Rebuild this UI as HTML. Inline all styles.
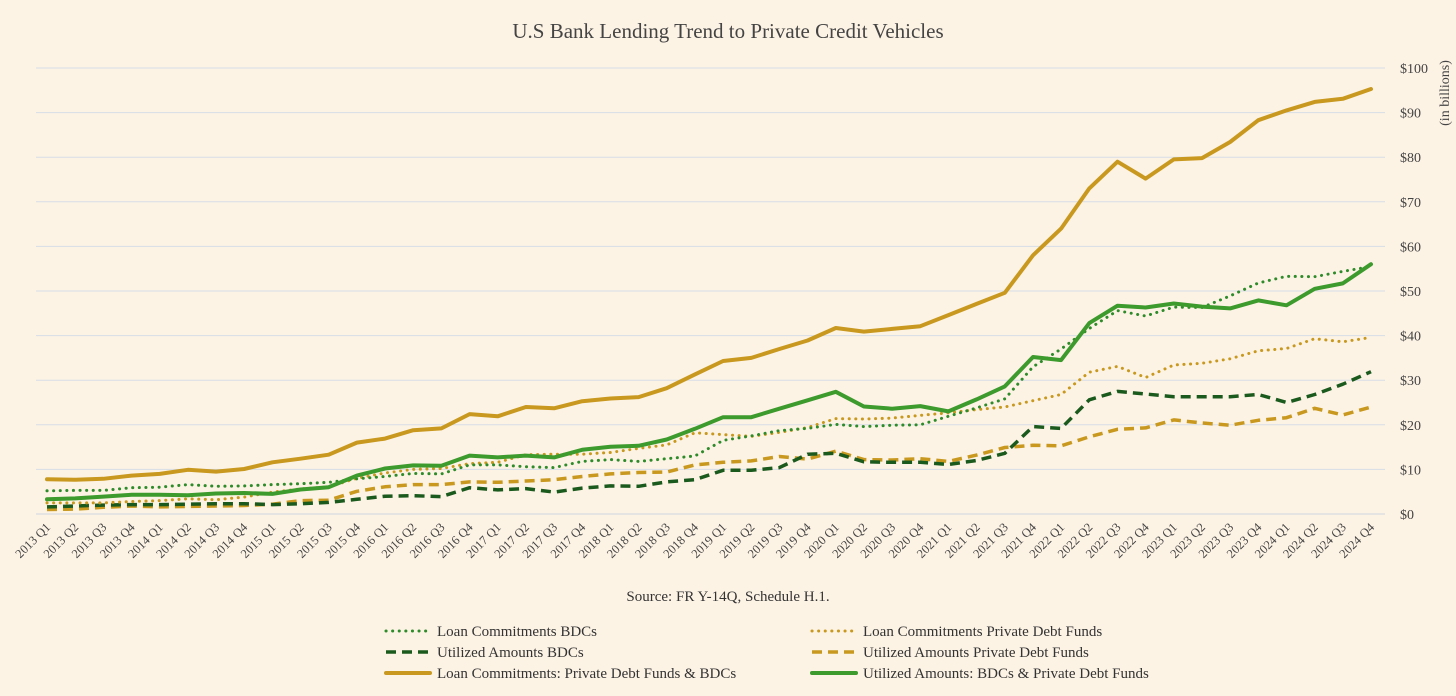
<!DOCTYPE html>
<html><head><meta charset="utf-8"><style>
body{margin:0;background:#fdf3e5;}
svg{display:block;font-family:"Liberation Serif",serif;}
</style></head><body>
<svg id="chart" width="1456" height="696" viewBox="0 0 1456 696">
<rect width="1456" height="696" fill="#fdf3e5"/>
<text x="728" y="38" text-anchor="middle" font-size="21" fill="#444">U.S Bank Lending Trend to Private Credit Vehicles</text>
<g id="grid"></g><g id="xlabels"></g><g id="ylabels"></g><g id="series"></g>
<text transform="translate(1449,93) rotate(-90)" text-anchor="middle" font-size="14" fill="#444">(in billions)</text>
<text x="728" y="601" text-anchor="middle" font-size="15" fill="#333">Source: FR Y-14Q, Schedule H.1.</text>
<g id="legend"></g>
</svg>
<script>
const categories=[];
const years=[2013,2014,2015,2016,2017,2018,2019,2020,2021,2022,2023,2024];
const quarters=["Q1","Q2","Q3","Q4"];
years.forEach(y=>quarters.forEach(q=>categories.push(y+" "+q)));
const yTicks=[0,10,20,30,40,50,60,70,80,90,100];
const commitBDC=[5.2,5.3,5.3,5.9,6,6.6,6.2,6.3,6.6,6.8,7.1,7.9,8.4,9.1,9,11,11,10.6,10.4,11.8,12.2,11.8,12.4,13,16.5,17.5,18.7,19.2,20.1,19.6,19.9,20,21.9,23.8,25.8,33,37,41.6,45.6,44.4,46.4,46.3,48.9,51.8,53.3,53.2,54.4,55.5];
const commitPDF=[2.5,2.5,2.5,2.8,3,3.4,3.2,3.8,4.9,5.6,6.1,8,9.2,10,10.2,11.3,11.6,13.3,13.4,13.4,13.8,14.7,15.5,18.2,17.8,17.4,18.3,19.4,21.4,21.3,21.5,22.1,22.7,23.4,24,25.4,26.8,31.8,33.1,30.6,33.4,33.8,34.8,36.6,37.1,39.3,38.6,39.6];
const utilBDC=[1.6,1.8,2,2.1,2.1,2.2,2.3,2.3,2.1,2.3,2.6,3.3,4,4.1,3.9,5.9,5.4,5.7,4.9,5.8,6.3,6.2,7.2,7.7,9.8,9.8,10.4,13.4,13.6,11.7,11.6,11.6,11.1,12,13.6,19.6,19.2,25.6,27.5,26.9,26.3,26.3,26.3,26.8,25,26.8,29.1,31.9];
const utilPDF=[1,1.1,1.5,1.8,1.6,1.7,1.8,1.9,2.2,3,3.1,5.1,6.1,6.6,6.6,7.2,7.1,7.4,7.7,8.4,9,9.3,9.4,11,11.6,11.9,12.9,12.3,14.1,12.2,12.1,12.4,11.8,13.2,14.9,15.4,15.3,17.3,19,19.3,21.1,20.4,19.9,21,21.6,23.7,22.2,24];
const commitTotal=[7.8,7.7,7.9,8.6,9,9.9,9.5,10.1,11.6,12.4,13.3,16,16.9,18.8,19.2,22.4,21.9,24,23.7,25.3,25.9,26.2,28.2,31.3,34.3,35,37,38.9,41.7,40.9,41.5,42.1,44.6,47.1,49.6,58,64,73,79,75.2,79.5,79.8,83.4,88.3,90.5,92.4,93.1,95.3];
const utilTotal=[3.3,3.5,3.9,4.3,4.3,4.2,4.6,4.7,4.5,5.5,6,8.6,10.2,10.9,10.8,13.1,12.7,13.1,12.7,14.4,15.1,15.3,16.7,19.1,21.7,21.7,23.6,25.5,27.4,24.1,23.6,24.2,23,25.7,28.6,35.2,34.5,42.8,46.7,46.3,47.2,46.5,46.1,47.9,46.8,50.5,51.7,56];
const seriesNames=["Loan Commitments BDCs","Utilized Amounts BDCs","Loan Commitments: Private Debt Funds & BDCs","Loan Commitments Private Debt Funds","Utilized Amounts Private Debt Funds","Utilized Amounts: BDCs & Private Debt Funds"];

const NS="http://www.w3.org/2000/svg";
const X0=47,X1=1371,Y0=514,Y100=68;
const xs=i=>X0+(X1-X0)*i/(categories.length-1);
const ys=v=>Y0+(Y100-Y0)*v/100;
function mk(tag,attrs,parent){const e=document.createElementNS(NS,tag);for(const k in attrs)e.setAttribute(k,attrs[k]);parent.appendChild(e);return e;}
const grid=document.getElementById('grid'),yl=document.getElementById('ylabels'),xl=document.getElementById('xlabels'),sg=document.getElementById('series'),lg=document.getElementById('legend');
yTicks.forEach(t=>{
  const l=mk('line',{x1:36,x2:1385,y1:ys(t),y2:ys(t),stroke:t===0?'#cfd6df':'#d6dde6','stroke-width':1},grid);
  
  
  const tx=mk('text',{x:1400,y:ys(t)+5,'font-size':14,fill:'#444'},yl);
  tx.textContent='$'+t;
  
  
});
categories.forEach((c,i)=>{
  const tx=mk('text',{transform:`translate(${xs(i)+4},${528}) rotate(-45)`,'text-anchor':'end','font-size':12.5,fill:'#444'},xl);
  tx.textContent=c;
  
  
});
const styles=[
 {d:commitBDC,c:'#2e8b2a',w:3,da:'0.1 6.5',cap:'round'},
 {d:utilBDC,c:'#1b5a1d',w:3.5,da:'10 6',cap:'butt'},
 {d:commitTotal,c:'#c8991e',w:4,da:'',cap:'round'},
 {d:commitPDF,c:'#c8991e',w:3,da:'0.1 6.5',cap:'round'},
 {d:utilPDF,c:'#c8991e',w:3.5,da:'10 6',cap:'butt'},
 {d:utilTotal,c:'#3d9a2c',w:4,da:'',cap:'round'}
];
const order=[4,1,3,0,2,5];
order.forEach(k=>{
  const s=styles[k];
  const p=s.d.map((v,i)=>(i?'L':'M')+xs(i).toFixed(1)+','+ys(v).toFixed(1)).join('');
  const path=mk('path',{d:p,fill:'none',stroke:s.c,'stroke-width':s.w,'stroke-dasharray':s.da,'stroke-linecap':s.cap,'stroke-linejoin':'round'},sg);
  
  
});
seriesNames.forEach((n,k)=>{
  const s=styles[k];
  const col=k<3?0:1,row=k%3;
  const lx=col?812:386,ly=631+row*21;
  const g=mk('g',{},lg);
  
  
  mk('line',{x1:lx,x2:lx+44,y1:ly,y2:ly,stroke:s.c,'stroke-width':s.w,'stroke-dasharray':s.da,'stroke-linecap':s.cap},g);
  const t=mk('text',{x:lx+51,y:ly+5,'font-size':15,fill:'#333'},g);
  t.textContent=n;
});
</script>
</body></html>
